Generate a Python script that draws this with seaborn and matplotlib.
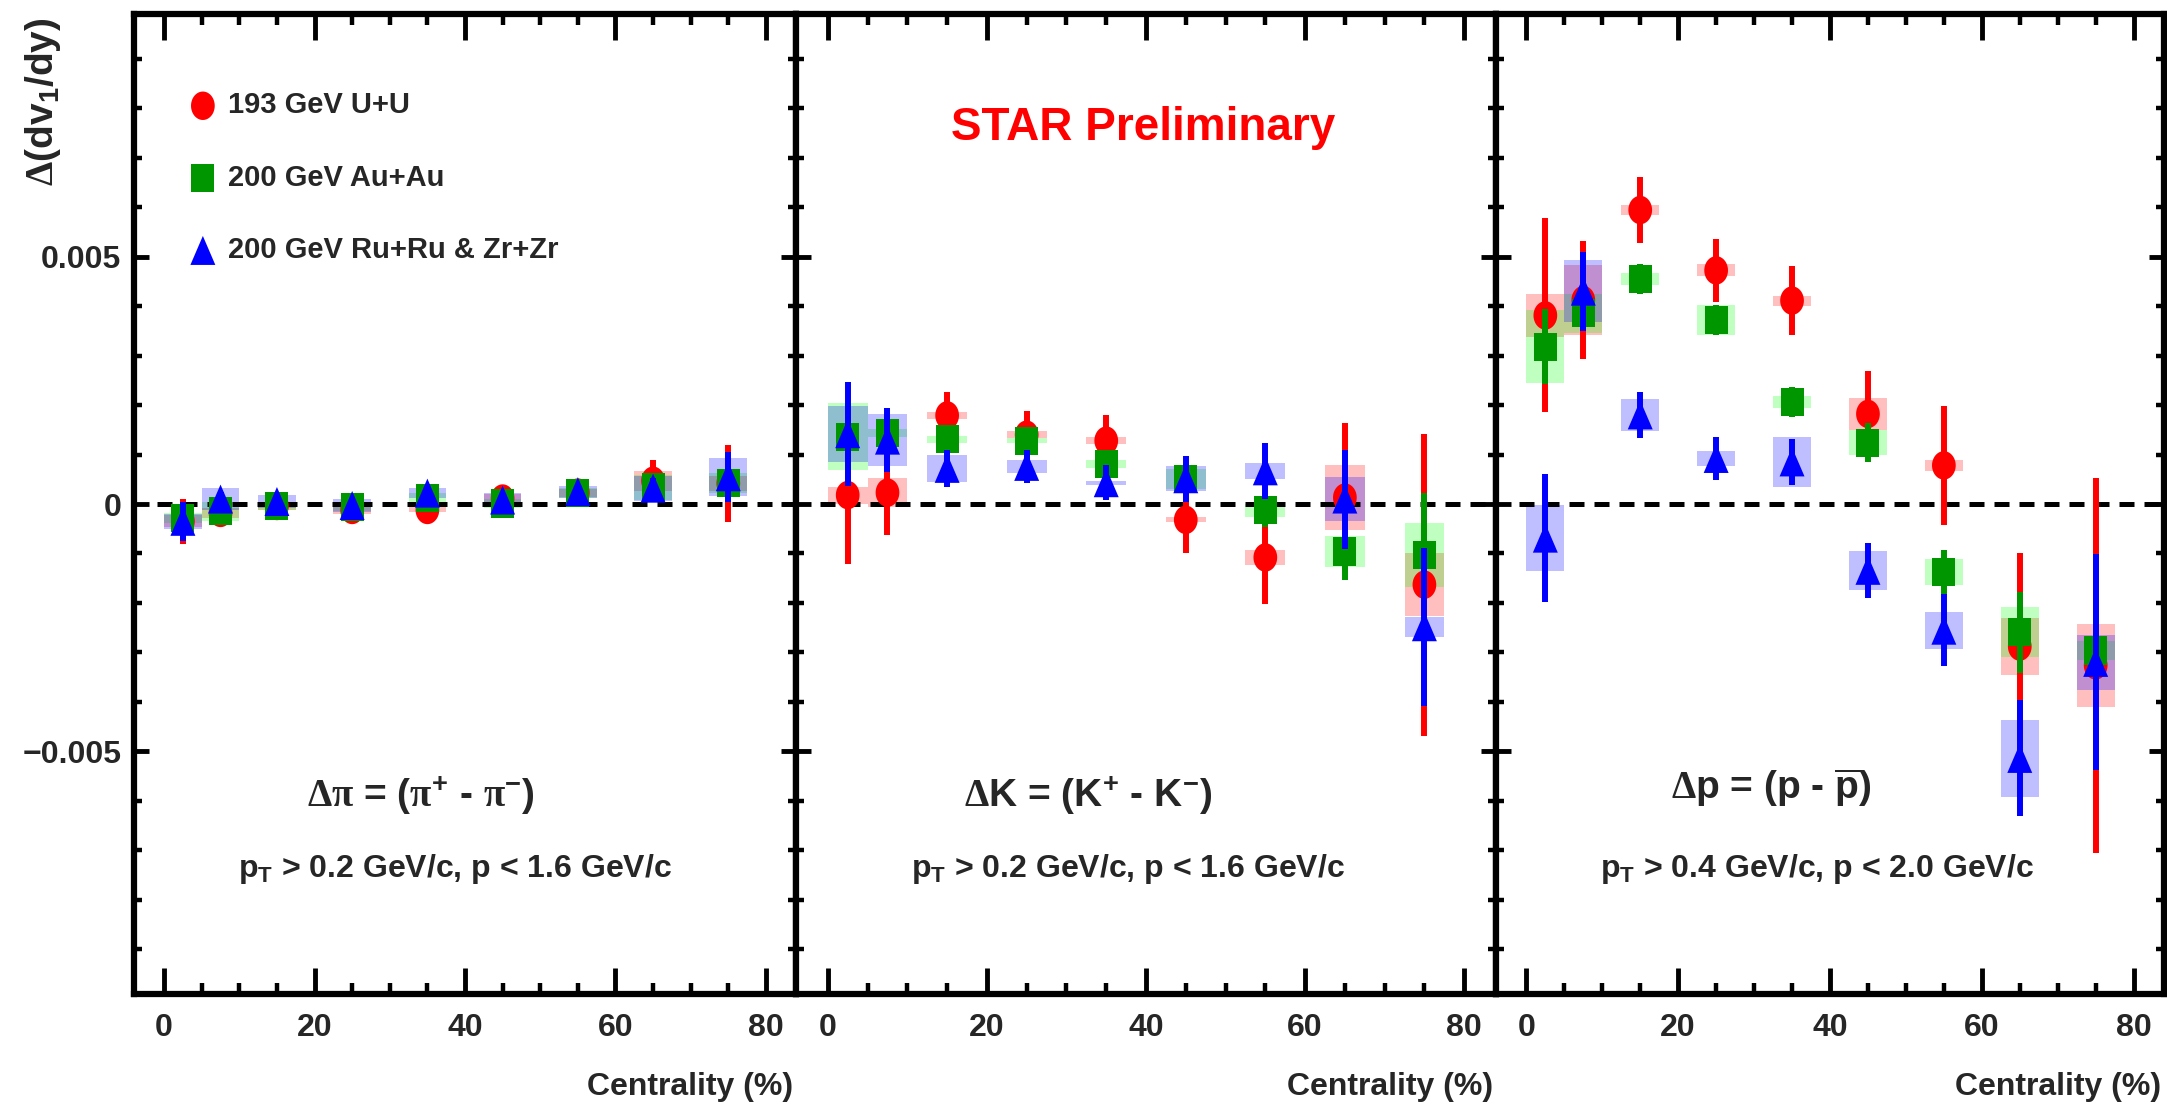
import numpy as np
import pandas as pd
import matplotlib
matplotlib.use("Agg")
import matplotlib.pyplot as plt
from matplotlib.path import Path
from matplotlib.ticker import FuncFormatter
import seaborn as sns

# ---------------- data (values of Delta(dv1/dy)) ----------------
cent = [2.5, 7.5, 15, 25, 35, 45, 55, 65, 75]
series_labels = ["193 GeV U+U", "200 GeV Au+Au", "200 GeV Ru+Ru & Zr+Zr"]
x_ticks = [0, 20, 40, 60, 80]
y_ticks = [-0.005, 0, 0.005]

# pions
pi_uu = [-0.35e-3, -0.18e-3, -0.04e-3, -0.12e-3, -0.12e-3, 0.11e-3, 0.23e-3, 0.47e-3, 0.42e-3]
pi_uu_stat = [0.45e-3, 0.25e-3, 0.20e-3, 0.20e-3, 0.20e-3, 0.20e-3, 0.20e-3, 0.42e-3, 0.78e-3]
pi_uu_sys = [0.12e-3, 0.10e-3, 0.08e-3, 0.08e-3, 0.05e-3, 0.10e-3, 0.08e-3, 0.20e-3, 0.15e-3]
pi_auau = [-0.28e-3, -0.15e-3, -0.04e-3, -0.07e-3, 0.13e-3, 0.01e-3, 0.22e-3, 0.34e-3, 0.42e-3]
pi_auau_stat = [0.15e-3, 0.15e-3, 0.12e-3, 0.12e-3, 0.12e-3, 0.12e-3, 0.12e-3, 0.15e-3, 0.20e-3]
pi_auau_sys = [0.10e-3, 0.20e-3, 0.08e-3, 0.08e-3, 0.10e-3, 0.10e-3, 0.10e-3, 0.25e-3, 0.20e-3]
pi_iso = [-0.35e-3, 0.10e-3, 0.05e-3, -0.03e-3, 0.22e-3, 0.08e-3, 0.25e-3, 0.32e-3, 0.55e-3]
pi_iso_stat = [0.40e-3, 0.15e-3, 0.12e-3, 0.12e-3, 0.12e-3, 0.12e-3, 0.12e-3, 0.20e-3, 0.50e-3]
pi_iso_sys = [0.15e-3, 0.22e-3, 0.14e-3, 0.14e-3, 0.10e-3, 0.14e-3, 0.12e-3, 0.25e-3, 0.38e-3]

# kaons
k_uu = [0.18e-3, 0.23e-3, 1.79e-3, 1.40e-3, 1.28e-3, -0.32e-3, -1.08e-3, 0.13e-3, -1.63e-3]
k_uu_stat = [1.39e-3, 0.86e-3, 0.47e-3, 0.47e-3, 0.52e-3, 0.67e-3, 0.95e-3, 1.50e-3, 3.05e-3]
k_uu_sys = [0.17e-3, 0.29e-3, 0.07e-3, 0.07e-3, 0.07e-3, 0.05e-3, 0.15e-3, 0.65e-3, 0.64e-3]
k_auau = [1.36e-3, 1.43e-3, 1.31e-3, 1.28e-3, 0.80e-3, 0.51e-3, -0.13e-3, -0.96e-3, -1.03e-3]
k_auau_stat = [0.30e-3, 0.30e-3, 0.25e-3, 0.25e-3, 0.25e-3, 0.30e-3, 0.33e-3, 0.58e-3, 1.26e-3]
k_auau_sys = [0.68e-3, 0.08e-3, 0.07e-3, 0.05e-3, 0.08e-3, 0.20e-3, 0.13e-3, 0.31e-3, 0.64e-3]
k_iso = [1.42e-3, 1.29e-3, 0.72e-3, 0.76e-3, 0.43e-3, 0.51e-3, 0.67e-3, 0.10e-3, -2.48e-3]
k_iso_stat = [1.05e-3, 0.65e-3, 0.37e-3, 0.34e-3, 0.35e-3, 0.46e-3, 0.57e-3, 1.00e-3, 1.60e-3]
k_iso_sys = [0.57e-3, 0.53e-3, 0.28e-3, 0.13e-3, 0.04e-3, 0.25e-3, 0.16e-3, 0.45e-3, 0.20e-3]

# protons
p_uu = [3.81e-3, 4.12e-3, 5.94e-3, 4.72e-3, 4.11e-3, 1.82e-3, 0.78e-3, -2.88e-3, -3.26e-3]
p_uu_stat = [1.96e-3, 1.19e-3, 0.66e-3, 0.63e-3, 0.70e-3, 0.87e-3, 1.21e-3, 1.90e-3, 3.79e-3]
p_uu_sys = [0.43e-3, 0.71e-3, 0.11e-3, 0.12e-3, 0.10e-3, 0.33e-3, 0.11e-3, 0.58e-3, 0.84e-3]
p_auau = [3.18e-3, 3.85e-3, 4.55e-3, 3.72e-3, 2.06e-3, 1.24e-3, -1.38e-3, -2.59e-3, -2.96e-3]
p_auau_stat = [0.76e-3, 0.30e-3, 0.30e-3, 0.30e-3, 0.30e-3, 0.40e-3, 0.46e-3, 0.82e-3, 0.40e-3]
p_auau_sys = [0.73e-3, 0.40e-3, 0.12e-3, 0.30e-3, 0.12e-3, 0.26e-3, 0.26e-3, 0.50e-3, 0.20e-3]
p_iso = [-0.69e-3, 4.30e-3, 1.80e-3, 0.92e-3, 0.85e-3, -1.34e-3, -2.55e-3, -5.14e-3, -3.20e-3]
p_iso_stat = [1.30e-3, 0.80e-3, 0.46e-3, 0.43e-3, 0.46e-3, 0.56e-3, 0.73e-3, 1.17e-3, 2.18e-3]
p_iso_sys = [0.67e-3, 0.63e-3, 0.32e-3, 0.16e-3, 0.50e-3, 0.40e-3, 0.37e-3, 0.78e-3, 0.56e-3]

panel_titles = [r"$\mathrm{\Delta\pi}$ = ($\mathrm{\pi}^{+}$ - $\mathrm{\pi}^{-}$)",
                r"$\mathrm{\Delta}$K = (K$^{+}$ - K$^{-}$)",
                r"$\mathrm{\Delta}$p = (p - $\overline{p}$)"]
panel_cuts = [r"p$_{T}$ > 0.2 GeV/c, p < 1.6 GeV/c",
              r"p$_{T}$ > 0.2 GeV/c, p < 1.6 GeV/c",
              r"p$_{T}$ > 0.4 GeV/c, p < 2.0 GeV/c"]

panels = [
    ([pi_uu, pi_auau, pi_iso], [pi_uu_stat, pi_auau_stat, pi_iso_stat], [pi_uu_sys, pi_auau_sys, pi_iso_sys]),
    ([k_uu, k_auau, k_iso], [k_uu_stat, k_auau_stat, k_iso_stat], [k_uu_sys, k_auau_sys, k_iso_sys]),
    ([p_uu, p_auau, p_iso], [p_uu_stat, p_auau_stat, p_iso_stat], [p_uu_sys, p_auau_sys, p_iso_sys]),
]

# ---------------- style ----------------
sns.set_theme(style="ticks")
plt.rcParams["font.family"] = ["Liberation Sans", "DejaVu Sans"]
plt.rcParams["font.weight"] = "bold"
plt.rcParams["mathtext.fontset"] = "custom"
plt.rcParams["mathtext.rm"] = "Liberation Serif"
plt.rcParams["mathtext.it"] = "Liberation Serif:italic"
plt.rcParams["mathtext.bf"] = "Liberation Sans:bold"
plt.rcParams["mathtext.default"] = "regular"
plt.rcParams["axes.unicode_minus"] = True

colors = ["#ff0000", "#009600", "#0000ff"]
box_colors = ["#ff0000", "#00ff00", "#0000ff"]

t = np.linspace(0, 2 * np.pi, 65)
m_ellipse = Path(np.column_stack([np.cos(t), 1.2 * np.sin(t)]), closed=True)
m_rect = Path([(-0.82, -1), (0.82, -1), (0.82, 1), (-0.82, 1), (-0.82, -1)], closed=True)
m_tri = Path([(0, 1), (-0.86, -1), (0.86, -1), (0, 1)], closed=True)
markers = [m_ellipse, m_rect, m_tri]
msizes = [420, 408, 436]

W, H = 2167, 1109
fig = plt.figure(figsize=(W / 100, H / 100), dpi=100)
fig.patch.set_facecolor("white")

panel_px = [(134, 796), (796, 1496), (1496, 2164)]
top_px, bot_px = 14, 994

axes = []
for i, (l, r) in enumerate(panel_px):
    ax = fig.add_axes([l / W, 1 - bot_px / H, (r - l) / W, (bot_px - top_px) / H])
    ax.set_facecolor("white")
    vals, stats, syss = panels[i]

    # systematic boxes
    for k in range(3):
        v = np.array(vals[k])
        s = np.array(syss[k])
        ax.bar(cent, 2 * s, bottom=v - s, width=5, color=box_colors[k], alpha=0.25,
               linewidth=0, zorder=1)

    ax.hlines(0, -1, 84, colors="black", linestyles=(0, (3, 2)), linewidth=3.6, zorder=2)

    for k in range(3):
        ax.errorbar(cent, vals[k], yerr=stats[k], fmt="none", ecolor=colors[k],
                    elinewidth=4.3, capsize=0, zorder=3 + 2 * k)
        df = pd.DataFrame({"cent": cent, "val": vals[k]})
        sns.scatterplot(data=df, x="cent", y="val", ax=ax, marker=markers[k], s=msizes[k],
                        color=colors[k], edgecolor="none", linewidth=0, zorder=4 + 2 * k,
                        label=series_labels[k] if i == 0 else None, legend=False)

    ax.set_xlim(-4, 84)
    ax.set_ylim(-0.0099, 0.0099)
    ax.set_xticks(x_ticks)
    ax.set_xticks(np.arange(5, 80, 5), minor=True)
    ax.set_yticks(y_ticks)
    ax.set_yticks(np.arange(-0.009, 0.0091, 0.001), minor=True)
    ax.tick_params(which="both", direction="in", top=True, right=True, color="black")
    ax.tick_params(axis="x", which="major", length=19, width=3.5, pad=14, labelsize=23)
    ax.tick_params(axis="x", which="minor", length=8, width=3.2)
    ax.tick_params(axis="y", which="major", length=11, width=3.5, pad=9, labelsize=23)
    ax.tick_params(axis="y", which="minor", length=5.5, width=3.2)
    ax.yaxis.set_major_formatter(FuncFormatter(lambda v, p: "0" if abs(v) < 1e-12 else f"{v:.3f}".replace("-", "\u2212")))
    if i > 0:
        ax.tick_params(axis="y", labelleft=False)
    for lab in ax.get_xticklabels() + ax.get_yticklabels():
        lab.set_fontweight("bold")
    for sp in ax.spines.values():
        sp.set_linewidth(4.5)
        sp.set_color("black")
    ax.set_xlabel("")
    ax.set_ylabel("")
    axes.append(ax)

    # x label at bottom right
    fig.text((r - 3) / W, 1 - 1095 / H, "Centrality (%)", ha="right", va="baseline",
             fontsize=23, fontweight="bold")

# panel annotations
title_pos = [(421, 807), (1088, 807), (1771, 799)]
cut_pos = [(455, 877), (1128, 877), (1817, 877)]
for j in range(3):
    fig.text(title_pos[j][0] / W, 1 - title_pos[j][1] / H, panel_titles[j], ha="center",
             va="baseline", fontsize=28, fontweight="bold")
    fig.text(cut_pos[j][0] / W, 1 - cut_pos[j][1] / H, panel_cuts[j], ha="center",
             va="baseline", fontsize=23, fontweight="bold")

fig.text(1143 / W, 1 - 140 / H, "STAR Preliminary", ha="center", va="baseline",
         fontsize=33, fontweight="bold", color="#ff0000")

fig.text(43 / W, 1 - 18 / H, r"$\mathrm{\Delta}$(dv$_{1}$/dy)", rotation=90, ha="center",
         va="top", fontsize=28, fontweight="bold")

leg = axes[0].legend(loc="upper left", bbox_to_anchor=(0.082, 0.921), frameon=False,
                     prop={"size": 21, "weight": "bold"}, handlelength=1.0,
                     handletextpad=0.36, labelspacing=1.52, borderpad=0,
                     borderaxespad=0, scatterpoints=1)

fig.savefig("out.png", dpi=100, facecolor="white")
